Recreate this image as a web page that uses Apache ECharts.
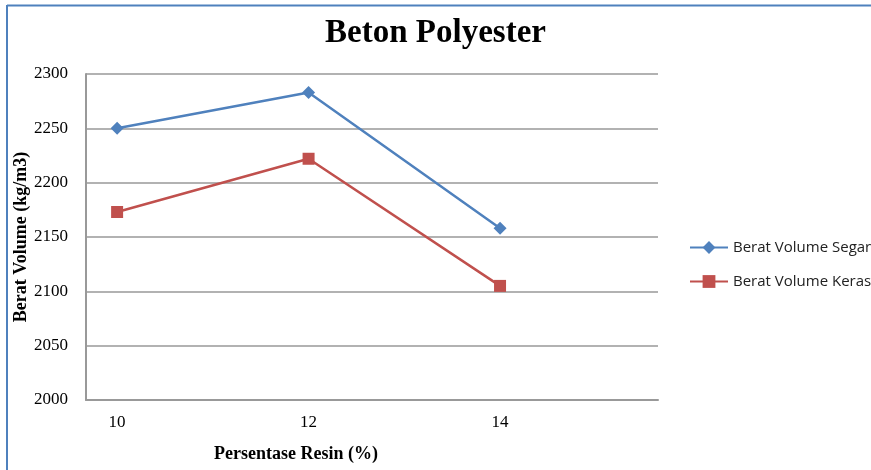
<!DOCTYPE html>
<html><head><meta charset="utf-8">
<script src="https://cdn.jsdelivr.net/npm/echarts@6/dist/echarts.min.js"></script>
<style>html,body{margin:0;padding:0;background:#fff}#c{width:871px;height:470px}</style>
</head><body><div id="c"></div>
<script>
const xValues = [10, 12, 14];
const xTickLabels = [10, 12, 14];
const beratSegar = [2250, 2283, 2158];
const beratKeras = [2173, 2222, 2105];
const seriesNames = ['Berat Volume Segar', 'Berat Volume Keras'];

const chart = echarts.init(document.getElementById('c'));
const serif = '"Liberation Serif", "Times New Roman", serif';
chart.setOption({
  animation: false,
  backgroundColor: '#fff',
  graphic: [
    {type: 'line', shape: {x1: 7, y1: 5.5, x2: 871, y2: 5.5}, style: {stroke: '#4F81BD', lineWidth: 2}},
    {type: 'line', shape: {x1: 7, y1: 5, x2: 7, y2: 470}, style: {stroke: '#4F81BD', lineWidth: 2}}
  ],
  title: {
    text: 'Beton Polyester', left: 'center', top: 12,
    textStyle: {fontFamily: serif, fontWeight: 'bold', fontSize: 33, color: '#000'}
  },
  legend: {
    orient: 'vertical', left: 684, top: 235, itemGap: 19,
    itemWidth: 38, itemHeight: 16,
    textStyle: {fontFamily: '"Open Sans", sans-serif', fontSize: 15, color: '#222'},
    data: seriesNames
  },
  grid: {left: 86, right: 213, top: 74, bottom: 70, containLabel: false, outerBoundsMode: 'none'},
  xAxis: {
    type: 'value', min: 9.675, max: 15.65,
    name: 'Persentase Resin (%)', nameLocation: 'middle', nameGap: 45, nameMoveOverlap: false,
    nameTextStyle: {fontFamily: serif, fontWeight: 'bold', fontSize: 18, color: '#000', padding: [0, 152, 0, 0]},
    axisLine: {show: true, lineStyle: {color: '#999', width: 2}},
    axisTick: {show: false},
    splitLine: {show: false},
    axisLabel: {customValues: xTickLabels, fontFamily: serif, fontSize: 17, color: '#000', margin: 14}
  },
  yAxis: {
    type: 'value', min: 2000, max: 2300, interval: 50,
    name: 'Berat Volume (kg/m3)', nameLocation: 'middle', nameGap: 56, nameRotate: 90, nameMoveOverlap: false,
    nameTextStyle: {fontFamily: serif, fontWeight: 'bold', fontSize: 18, color: '#000'},
    axisLine: {show: true, lineStyle: {color: '#999', width: 2}},
    axisTick: {show: false},
    splitLine: {lineStyle: {color: '#999', width: 1.5}},
    axisLabel: {fontFamily: serif, fontSize: 17, color: '#000', margin: 18, formatter: v => String(v)}
  },
  series: [
    {
      name: seriesNames[0], type: 'line',
      data: xValues.map((x, i) => [x, beratSegar[i]]),
      symbol: 'diamond', symbolSize: 13,
      lineStyle: {color: '#4F81BD', width: 2.5},
      itemStyle: {color: '#4F81BD'}
    },
    {
      name: seriesNames[1], type: 'line',
      data: xValues.map((x, i) => [x, beratKeras[i]]),
      symbol: 'rect', symbolSize: 12,
      lineStyle: {color: '#C0504D', width: 2.5},
      itemStyle: {color: '#C0504D'}
    }
  ]
});
</script></body></html>
